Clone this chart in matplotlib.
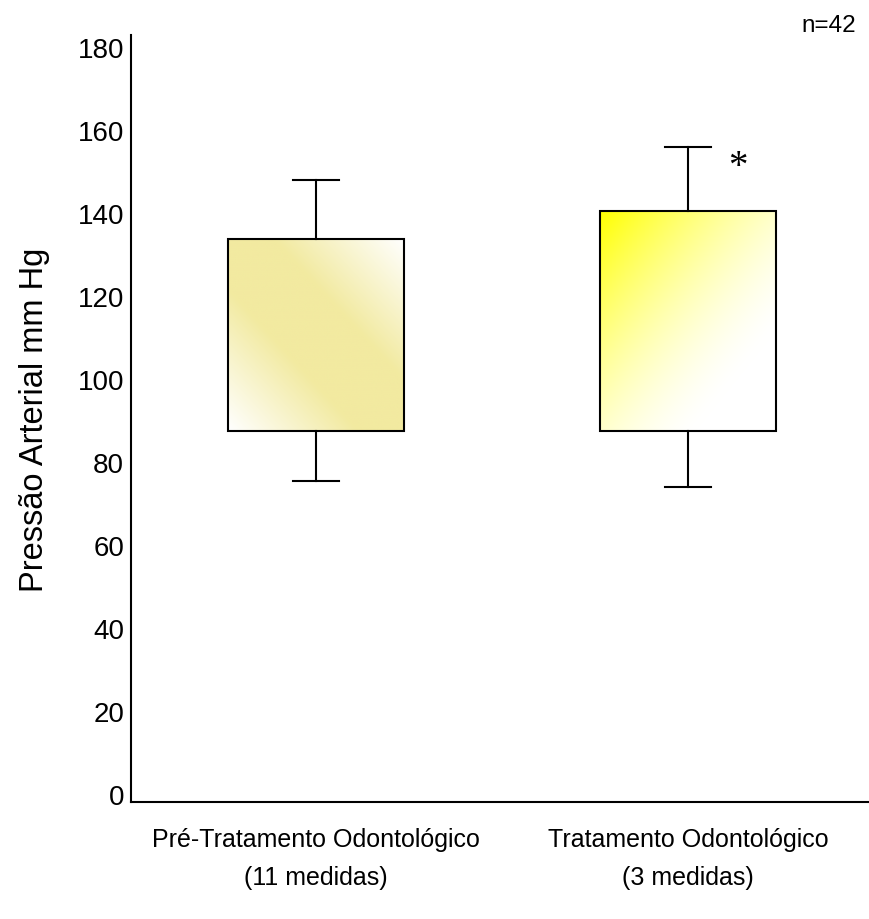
import numpy as np
import matplotlib
matplotlib.use('Agg')
import matplotlib.pyplot as plt
from matplotlib.patches import Rectangle

# Data
categories = ['Pré-Tratamento Odontológico\n(11 medidas)', 'Tratamento Odontológico\n(3 medidas)']
q1 = [87.5, 87.5]
q3 = [133.7, 140.5]
whisker_lo = [75.4, 74.0]
whisker_hi = [148.0, 155.9]
y_ticks = [0, 20, 40, 60, 80, 100, 120, 140, 160, 180]

plt.rcParams['font.family'] = ['Liberation Sans', 'DejaVu Sans']

fig = plt.figure(figsize=(8.69, 9.2), dpi=100)
ax = fig.add_axes([0.1507, 0.1272, 0.8483, 0.8337])

box_w = 0.473
cap_w = 0.124

def gradient_pre(n=200):
    u, v = np.meshgrid(np.linspace(0, 1, n), np.linspace(0, 1, n))
    s = (u + v) / 2
    f = np.clip((1 - np.abs(2 * s - 1)) * 1.35, 0, 1)
    khaki = np.array([242, 234, 160]) / 255
    white = np.ones(3)
    return white + (khaki - white) * f[..., None]

def gradient_trat(n=200):
    u, v = np.meshgrid(np.linspace(0, 1, n), np.linspace(0, 1, n))
    s = (u + (1 - v)) / 2
    f = np.clip(1 - s * 1.3, 0, 1) ** 1.5
    yellow = np.array([255, 255, 0]) / 255
    white = np.ones(3)
    return white + (yellow - white) * f[..., None]

grads = [gradient_pre(), gradient_trat()]

for i in range(len(categories)):
    x = i + 1
    x0, x1 = x - box_w / 2, x + box_w / 2
    ax.imshow(grads[i], extent=[x0, x1, q1[i], q3[i]], origin='lower',
              aspect='auto', zorder=2, interpolation='bilinear')
    ax.add_patch(Rectangle((x0, q1[i]), box_w, q3[i] - q1[i], fill=False,
                           edgecolor='black', lw=1.5, zorder=3))
    # whiskers
    ax.plot([x, x], [q3[i], whisker_hi[i]], color='black', lw=1.5, zorder=3)
    ax.plot([x, x], [q1[i], whisker_lo[i]], color='black', lw=1.5, zorder=3)
    ax.plot([x - cap_w / 2, x + cap_w / 2], [whisker_hi[i]] * 2, color='black', lw=1.5, zorder=3)
    ax.plot([x - cap_w / 2, x + cap_w / 2], [whisker_lo[i]] * 2, color='black', lw=1.5, zorder=3)

ax.set_xlim(0.503, 2.484)
ax.set_ylim(-1.93, 182.9)

ax.spines['top'].set_visible(False)
ax.spines['right'].set_visible(False)
ax.spines['left'].set_linewidth(1.5)
ax.spines['bottom'].set_linewidth(1.5)

ax.set_yticks(y_ticks)
ax.set_yticklabels([str(t) for t in y_ticks], fontsize=20)
ax.tick_params(axis='y', length=0, pad=5)
ax.set_xticks([1, 2])
ax.set_xticklabels(categories, fontsize=18, linespacing=1.72)
ax.tick_params(axis='x', length=0, pad=18)

ax.set_ylabel('Pressão Arterial mm Hg', fontsize=23.5, labelpad=20)

ax.text(2.134, 151.2, '*', family='Liberation Serif', fontsize=28,
        ha='center', va='center')
fig.text(0.954, 0.972, 'n=42', fontsize=17.5, ha='center', va='center')

fig.savefig('out.png', dpi=100)
